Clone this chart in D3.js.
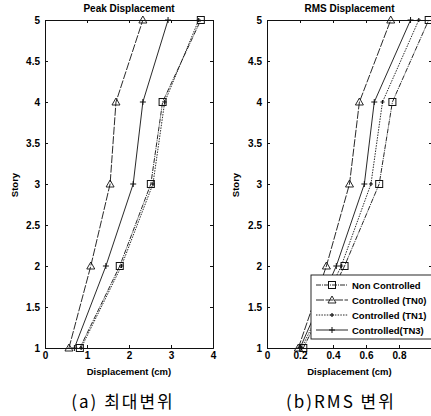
<!DOCTYPE html>
<meta charset="utf-8">
<style>
body { margin: 0; background: #fff; }
svg { display: block; }
.tick text { font-family: "Liberation Sans", Arial, sans-serif; font-size: 10px; font-weight: bold; }
.lbl { font-family: "Liberation Sans", Arial, sans-serif; font-size: 9.5px; font-weight: bold; }
.ttl { font-family: "Liberation Sans", Arial, sans-serif; font-size: 10px; font-weight: bold; }
.cap { font-family: "Noto Sans CJK KR", "Noto Sans", sans-serif; font-size: 17px; letter-spacing: 2px; }
.leg { font-family: "Liberation Sans", Arial, sans-serif; font-size: 9.5px; font-weight: bold; }
</style>
<svg width="431" height="416"></svg>
<script src="https://cdnjs.cloudflare.com/ajax/libs/d3/7.8.5/d3.min.js"></script>
<script>
var stories = [1, 2, 3, 4, 5];

// peak displacement (cm)
var peakNon = [0.83, 1.78, 2.52, 2.80, 3.71];
var peakTN0 = [0.57, 1.09, 1.55, 1.69, 2.33];
var peakTN1 = [0.86, 1.82, 2.57, 2.85, 3.66];
var peakTN3 = [0.70, 1.45, 2.10, 2.33, 2.93];

// rms displacement (cm)
var rmsNon = [0.22, 0.47, 0.68, 0.76, 0.98];
var rmsTN0 = [0.19, 0.36, 0.50, 0.56, 0.75];
var rmsTN1 = [0.21, 0.45, 0.63, 0.70, 0.92];
var rmsTN3 = [0.20, 0.42, 0.59, 0.65, 0.87];

var seriesNames = ["Non Controlled", "Controlled (TN0)", "Controlled (TN1)", "Controlled(TN3)"];
var peakTicksX = [0, 1, 2, 3, 4];
var rmsTicksX = [0, 0.2, 0.4, 0.6, 0.8];
var ticksY = [1, 1.5, 2, 2.5, 3, 3.5, 4, 4.5, 5];

var styles = [
  {dash: "5,1,1,1", marker: "square"},
  {dash: "8,1.5", marker: "triangle"},
  {dash: "1.5,1.2", marker: "dot"},
  {dash: null, marker: "plus"}
];

var svg = d3.select("svg");
svg.append("rect").attr("width", 431).attr("height", 416).attr("fill", "#fff");

function marker(g, type, x, y) {
  if (type === "square") {
    g.append("rect").attr("x", x - 3.5).attr("y", y - 3.5).attr("width", 7).attr("height", 7)
      .attr("fill", "none").attr("stroke", "#111").attr("stroke-width", 1);
  } else if (type === "triangle") {
    g.append("path").attr("d", "M" + x + "," + (y - 4) + "L" + (x + 4) + "," + (y + 3) + "L" + (x - 4) + "," + (y + 3) + "Z")
      .attr("fill", "none").attr("stroke", "#111").attr("stroke-width", 0.9);
  } else if (type === "plus") {
    g.append("path").attr("d", "M" + (x - 3) + "," + y + "H" + (x + 3) + "M" + x + "," + (y - 3) + "V" + (y + 3))
      .attr("stroke", "#111").attr("stroke-width", 1);
  } else {
    g.append("path").attr("d", "M" + (x - 2) + "," + y + "H" + (x + 2) + "M" + x + "," + (y - 2) + "V" + (y + 2))
      .attr("stroke", "#111").attr("stroke-width", 1.2);
  }
}

function panel(opts) {
  var x = d3.scaleLinear().domain(opts.xdom).range([opts.left, opts.right]);
  var y = d3.scaleLinear().domain([1, 5]).range([348, 20]);
  var g = svg.append("g");

  var line = d3.line().x(function (d) { return x(d[0]); }).y(function (d) { return y(d[1]); });
  opts.data.forEach(function (vals, i) {
    var pts = vals.map(function (v, j) { return [v, stories[j]]; });
    g.append("path").datum(pts).attr("d", line).attr("fill", "none")
      .attr("stroke", "#111").attr("stroke-width", 0.9)
      .attr("stroke-dasharray", styles[i].dash);
    pts.forEach(function (p) { marker(g, styles[i].marker, x(p[0]), y(p[1])); });
  });

  // box with inward ticks
  var fmt = function (d) { return String(d); };
  g.append("g").attr("transform", "translate(0,348)")
    .call(d3.axisBottom(x).tickValues(opts.xticks).tickSize(-3).tickPadding(4).tickFormat(fmt));
  g.append("g").attr("transform", "translate(0,20)")
    .call(d3.axisTop(x).tickValues(opts.xticks).tickSize(-3).tickFormat(""));
  g.append("g").attr("transform", "translate(" + opts.left + ",0)")
    .call(d3.axisLeft(y).tickValues(ticksY).tickSize(-3).tickPadding(5).tickFormat(fmt));
  g.append("g").attr("transform", "translate(" + opts.right + ",0)")
    .call(d3.axisRight(y).tickValues(ticksY).tickSize(-3).tickFormat(""));
  g.selectAll(".domain").attr("stroke", "#111").attr("stroke-width", 1);
  g.selectAll(".tick line").attr("stroke", "#111");
  g.selectAll(".tick text").attr("fill", "#000");

  var cx = (opts.left + opts.right) / 2;
  svg.append("text").attr("class", "ttl").attr("x", cx).attr("y", 12)
    .attr("text-anchor", "middle").text(opts.title);
  svg.append("text").attr("class", "lbl").attr("x", cx).attr("y", 375)
    .attr("text-anchor", "middle").text("Displacement (cm)");
  svg.append("text").attr("class", "lbl")
    .attr("transform", "translate(" + opts.ylabX + ",185) rotate(-90)")
    .attr("text-anchor", "middle").text("Story");
  svg.append("text").attr("class", "cap").attr("x", opts.capX).attr("y", 408)
    .attr("text-anchor", "middle").text(opts.caption);
  return {x: x, y: y, g: g};
}

panel({xdom: [0, 4], left: 45, right: 213, xticks: peakTicksX,
  data: [peakNon, peakTN0, peakTN1, peakTN3],
  title: "Peak Displacement", ylabX: 18, capX: 123, caption: "(a) 최대변위"});

panel({xdom: [0, 1], left: 267, right: 432, xticks: rmsTicksX,
  data: [rmsNon, rmsTN0, rmsTN1, rmsTN3],
  title: "RMS Displacement", ylabX: 239, capX: 341, caption: "(b)RMS 변위"});

// legend
var leg = svg.append("g");
leg.append("rect").attr("x", 311).attr("y", 275).attr("width", 130).attr("height", 64)
  .attr("fill", "#fff").attr("stroke", "#111").attr("stroke-width", 0.9);
var legY = d3.scalePoint().domain(seriesNames).range([285, 330]);
seriesNames.forEach(function (name, i) {
  var yy = legY(name);
  leg.append("line").attr("x1", 316).attr("x2", 348).attr("y1", yy).attr("y2", yy)
    .attr("stroke", "#111").attr("stroke-width", 0.9).attr("stroke-dasharray", styles[i].dash);
  marker(leg, styles[i].marker, 332, yy);
  leg.append("text").attr("class", "leg").attr("x", 352).attr("y", yy + 3.5).text(name);
});
</script>
